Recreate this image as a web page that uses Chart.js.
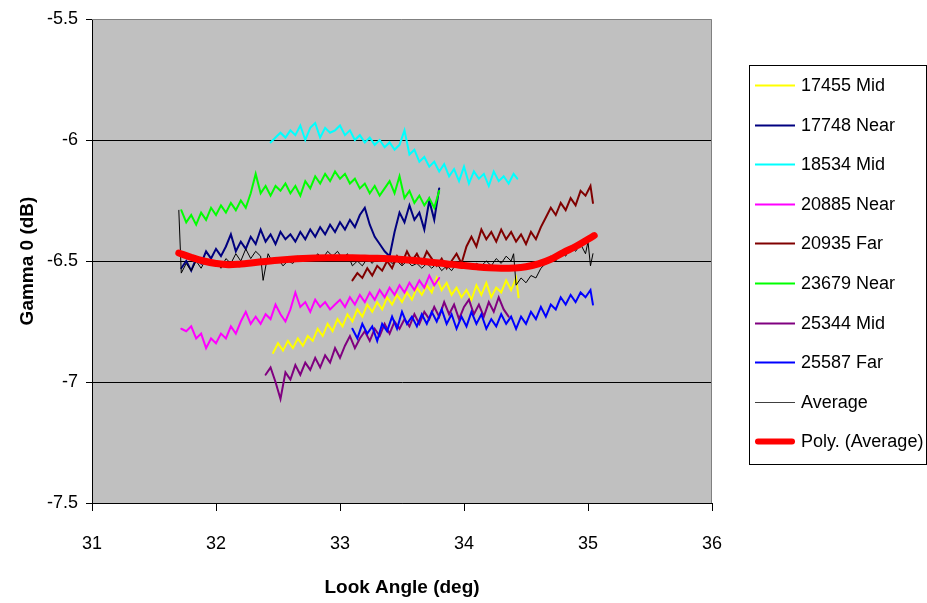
<!DOCTYPE html>
<html>
<head>
<meta charset="utf-8">
<script src="https://cdn.jsdelivr.net/npm/chart.js@4.4.1/dist/chart.umd.min.js"></script>
<style>
  body { margin: 0; background: #fff; }
</style>
</head>
<body>
<canvas id="chart" width="927" height="603"></canvas>
<script>
// [look angle, gamma0] pairs
const s17455Mid = [[32.46,-6.88],[32.50,-6.84],[32.54,-6.87],[32.58,-6.83],[32.62,-6.86],[32.66,-6.82],[32.70,-6.85],[32.74,-6.81],[32.78,-6.83],[32.82,-6.78],[32.86,-6.81],[32.90,-6.76],[32.94,-6.79],[32.98,-6.74],[33.02,-6.77],[33.06,-6.72],[33.10,-6.75],[33.14,-6.70],[33.18,-6.73],[33.22,-6.68],[33.26,-6.71],[33.30,-6.67],[33.34,-6.70],[33.38,-6.65],[33.42,-6.68],[33.46,-6.64],[33.50,-6.67],[33.54,-6.63],[33.58,-6.66],[33.62,-6.61],[33.66,-6.64],[33.70,-6.60],[33.74,-6.63],[33.78,-6.57],[33.82,-6.62],[33.86,-6.59],[33.90,-6.64],[33.94,-6.61],[33.98,-6.65],[34.02,-6.62],[34.06,-6.66],[34.10,-6.60],[34.14,-6.64],[34.18,-6.59],[34.22,-6.65],[34.26,-6.61],[34.30,-6.63],[34.34,-6.58],[34.38,-6.62],[34.42,-6.57],[34.44,-6.65]];
const s17748Near = [[31.72,-6.53],[31.76,-6.50],[31.80,-6.54],[31.84,-6.49],[31.88,-6.51],[31.92,-6.46],[31.96,-6.49],[32.00,-6.45],[32.04,-6.48],[32.08,-6.44],[32.12,-6.39],[32.16,-6.46],[32.20,-6.42],[32.24,-6.45],[32.28,-6.40],[32.32,-6.43],[32.36,-6.37],[32.40,-6.42],[32.44,-6.39],[32.48,-6.43],[32.52,-6.38],[32.56,-6.41],[32.60,-6.39],[32.64,-6.42],[32.68,-6.38],[32.72,-6.41],[32.76,-6.37],[32.80,-6.40],[32.84,-6.36],[32.88,-6.39],[32.92,-6.35],[32.96,-6.38],[33.00,-6.34],[33.04,-6.37],[33.08,-6.33],[33.12,-6.36],[33.16,-6.31],[33.20,-6.28],[33.24,-6.35],[33.28,-6.40],[33.32,-6.43],[33.36,-6.46],[33.40,-6.48],[33.44,-6.38],[33.48,-6.30],[33.52,-6.34],[33.56,-6.27],[33.60,-6.33],[33.64,-6.30],[33.68,-6.37],[33.72,-6.25],[33.76,-6.33],[33.80,-6.20]];
const s18534Mid = [[32.44,-6.01],[32.48,-5.99],[32.52,-5.97],[32.56,-5.99],[32.60,-5.96],[32.64,-5.98],[32.68,-5.94],[32.72,-6.00],[32.76,-5.95],[32.80,-5.93],[32.84,-5.99],[32.88,-5.95],[32.92,-5.97],[32.96,-5.96],[33.00,-5.94],[33.04,-5.98],[33.08,-5.96],[33.12,-6.00],[33.16,-5.98],[33.20,-6.01],[33.24,-5.99],[33.28,-6.02],[33.32,-6.00],[33.36,-6.03],[33.40,-6.01],[33.44,-6.04],[33.48,-6.02],[33.52,-5.96],[33.56,-6.06],[33.60,-6.04],[33.64,-6.09],[33.68,-6.07],[33.72,-6.11],[33.76,-6.09],[33.80,-6.13],[33.84,-6.10],[33.88,-6.15],[33.92,-6.12],[33.96,-6.17],[34.00,-6.11],[34.04,-6.18],[34.08,-6.13],[34.12,-6.16],[34.16,-6.14],[34.20,-6.19],[34.24,-6.13],[34.28,-6.17],[34.32,-6.15],[34.36,-6.18],[34.40,-6.14],[34.43,-6.16]];
const s20885Near = [[31.72,-6.78],[31.76,-6.79],[31.80,-6.77],[31.84,-6.82],[31.88,-6.80],[31.92,-6.86],[31.96,-6.82],[32.00,-6.84],[32.04,-6.80],[32.08,-6.82],[32.12,-6.77],[32.16,-6.80],[32.20,-6.75],[32.24,-6.71],[32.28,-6.76],[32.32,-6.73],[32.36,-6.76],[32.40,-6.72],[32.44,-6.74],[32.48,-6.68],[32.52,-6.72],[32.56,-6.75],[32.60,-6.70],[32.64,-6.63],[32.68,-6.69],[32.72,-6.67],[32.76,-6.71],[32.80,-6.66],[32.84,-6.69],[32.88,-6.67],[32.92,-6.70],[32.96,-6.68],[33.00,-6.66],[33.04,-6.69],[33.08,-6.65],[33.12,-6.68],[33.16,-6.64],[33.20,-6.67],[33.24,-6.63],[33.28,-6.66],[33.32,-6.62],[33.36,-6.65],[33.40,-6.61],[33.44,-6.64],[33.48,-6.60],[33.52,-6.63],[33.56,-6.59],[33.60,-6.62],[33.64,-6.58],[33.68,-6.61],[33.72,-6.56],[33.76,-6.60],[33.80,-6.57]];
const s20935Far = [[33.10,-6.58],[33.14,-6.55],[33.18,-6.57],[33.22,-6.53],[33.26,-6.56],[33.30,-6.52],[33.34,-6.54],[33.38,-6.50],[33.42,-6.53],[33.46,-6.48],[33.50,-6.51],[33.54,-6.46],[33.58,-6.50],[33.62,-6.47],[33.66,-6.51],[33.70,-6.46],[33.74,-6.49],[33.78,-6.52],[33.82,-6.49],[33.86,-6.53],[33.90,-6.50],[33.94,-6.47],[33.98,-6.51],[34.02,-6.44],[34.06,-6.40],[34.10,-6.44],[34.14,-6.37],[34.18,-6.41],[34.22,-6.38],[34.26,-6.42],[34.30,-6.37],[34.34,-6.41],[34.38,-6.38],[34.42,-6.42],[34.46,-6.39],[34.50,-6.43],[34.54,-6.38],[34.58,-6.41],[34.62,-6.36],[34.66,-6.32],[34.70,-6.28],[34.74,-6.31],[34.78,-6.26],[34.82,-6.29],[34.86,-6.24],[34.90,-6.27],[34.94,-6.21],[34.98,-6.23],[35.02,-6.19],[35.04,-6.26]];
const s23679Near = [[31.72,-6.29],[31.76,-6.34],[31.80,-6.31],[31.84,-6.35],[31.88,-6.30],[31.92,-6.33],[31.96,-6.28],[32.00,-6.31],[32.04,-6.27],[32.08,-6.30],[32.12,-6.26],[32.16,-6.29],[32.20,-6.25],[32.24,-6.28],[32.28,-6.22],[32.32,-6.14],[32.36,-6.22],[32.40,-6.19],[32.44,-6.23],[32.48,-6.19],[32.52,-6.21],[32.56,-6.18],[32.60,-6.22],[32.64,-6.19],[32.68,-6.23],[32.72,-6.17],[32.76,-6.20],[32.80,-6.15],[32.84,-6.18],[32.88,-6.14],[32.92,-6.17],[32.96,-6.13],[33.00,-6.16],[33.04,-6.14],[33.08,-6.18],[33.12,-6.16],[33.16,-6.20],[33.20,-6.18],[33.24,-6.22],[33.28,-6.19],[33.32,-6.23],[33.36,-6.20],[33.40,-6.17],[33.44,-6.22],[33.48,-6.15],[33.52,-6.24],[33.56,-6.21],[33.60,-6.26],[33.64,-6.23],[33.68,-6.27],[33.72,-6.24],[33.76,-6.28],[33.80,-6.21]];
const s25344Mid = [[32.40,-6.97],[32.44,-6.94],[32.48,-7.00],[32.52,-7.07],[32.56,-6.96],[32.60,-6.99],[32.64,-6.93],[32.68,-6.97],[32.72,-6.92],[32.76,-6.95],[32.80,-6.90],[32.84,-6.94],[32.88,-6.89],[32.92,-6.92],[32.96,-6.86],[33.00,-6.90],[33.04,-6.85],[33.08,-6.81],[33.12,-6.86],[33.16,-6.82],[33.20,-6.79],[33.24,-6.83],[33.28,-6.78],[33.32,-6.81],[33.36,-6.76],[33.40,-6.80],[33.44,-6.75],[33.48,-6.78],[33.52,-6.74],[33.56,-6.77],[33.60,-6.72],[33.64,-6.76],[33.68,-6.71],[33.72,-6.74],[33.76,-6.69],[33.80,-6.73],[33.84,-6.67],[33.88,-6.72],[33.92,-6.68],[33.96,-6.74],[34.00,-6.69],[34.04,-6.66],[34.08,-6.72],[34.12,-6.68],[34.16,-6.73],[34.20,-6.67],[34.24,-6.71],[34.28,-6.65],[34.32,-6.70],[34.36,-6.73]];
const s25587Far = [[33.10,-6.78],[33.14,-6.82],[33.18,-6.76],[33.22,-6.80],[33.26,-6.77],[33.30,-6.83],[33.34,-6.76],[33.38,-6.79],[33.42,-6.73],[33.46,-6.78],[33.50,-6.71],[33.54,-6.76],[33.58,-6.73],[33.62,-6.77],[33.66,-6.72],[33.70,-6.76],[33.74,-6.71],[33.78,-6.75],[33.82,-6.70],[33.86,-6.76],[33.90,-6.72],[33.94,-6.78],[33.98,-6.73],[34.02,-6.77],[34.06,-6.71],[34.10,-6.76],[34.14,-6.72],[34.18,-6.78],[34.22,-6.74],[34.26,-6.77],[34.30,-6.72],[34.34,-6.76],[34.38,-6.73],[34.42,-6.78],[34.46,-6.73],[34.50,-6.76],[34.54,-6.71],[34.58,-6.74],[34.62,-6.69],[34.66,-6.73],[34.70,-6.68],[34.74,-6.70],[34.78,-6.65],[34.82,-6.68],[34.86,-6.64],[34.90,-6.67],[34.94,-6.63],[34.98,-6.65],[35.02,-6.62],[35.04,-6.68]];
const average = [[31.70,-6.29],[31.72,-6.55],[31.76,-6.51],[31.80,-6.54],[31.84,-6.50],[31.88,-6.53],[31.92,-6.49],[31.96,-6.52],[32.00,-6.50],[32.04,-6.53],[32.08,-6.49],[32.12,-6.51],[32.16,-6.47],[32.20,-6.50],[32.24,-6.45],[32.28,-6.49],[32.32,-6.46],[32.36,-6.48],[32.38,-6.58],[32.42,-6.47],[32.46,-6.51],[32.50,-6.49],[32.54,-6.52],[32.58,-6.50],[32.62,-6.51],[32.66,-6.48],[32.70,-6.50],[32.74,-6.48],[32.78,-6.50],[32.82,-6.47],[32.86,-6.49],[32.90,-6.46],[32.94,-6.48],[32.98,-6.46],[33.02,-6.49],[33.06,-6.47],[33.10,-6.52],[33.14,-6.50],[33.18,-6.52],[33.22,-6.49],[33.26,-6.51],[33.30,-6.48],[33.34,-6.50],[33.38,-6.49],[33.42,-6.51],[33.46,-6.50],[33.50,-6.52],[33.54,-6.50],[33.58,-6.52],[33.62,-6.51],[33.66,-6.53],[33.70,-6.51],[33.74,-6.53],[33.78,-6.51],[33.82,-6.54],[33.86,-6.52],[33.90,-6.54],[33.94,-6.51],[33.98,-6.53],[34.02,-6.51],[34.06,-6.53],[34.10,-6.51],[34.14,-6.52],[34.18,-6.50],[34.22,-6.52],[34.26,-6.49],[34.30,-6.51],[34.34,-6.48],[34.38,-6.50],[34.40,-6.47],[34.42,-6.60],[34.46,-6.57],[34.50,-6.59],[34.54,-6.56],[34.58,-6.57],[34.62,-6.53],[34.66,-6.51],[34.70,-6.48],[34.74,-6.50],[34.78,-6.46],[34.82,-6.48],[34.86,-6.44],[34.90,-6.46],[34.94,-6.43],[34.98,-6.47],[35.00,-6.42],[35.02,-6.52],[35.04,-6.47]];
const polyAverage = [[31.70,-6.467],[31.80,-6.485],[31.90,-6.500],[32.00,-6.510],[32.10,-6.515],[32.20,-6.512],[32.30,-6.507],[32.40,-6.502],[32.50,-6.497],[32.60,-6.493],[32.70,-6.490],[32.80,-6.488],[32.90,-6.487],[33.00,-6.487],[33.10,-6.487],[33.20,-6.488],[33.30,-6.489],[33.40,-6.491],[33.50,-6.494],[33.60,-6.498],[33.70,-6.503],[33.80,-6.508],[33.90,-6.514],[34.00,-6.519],[34.10,-6.524],[34.20,-6.528],[34.30,-6.530],[34.40,-6.529],[34.50,-6.524],[34.60,-6.512],[34.70,-6.493],[34.80,-6.465],[34.90,-6.440],[35.00,-6.410],[35.05,-6.395]];

const seriesNames = ["17455 Mid", "17748 Near", "18534 Mid", "20885 Near", "20935 Far", "23679 Near", "25344 Mid", "25587 Far", "Average", "Poly. (Average)"];
const seriesData = [s17455Mid, s17748Near, s18534Mid, s20885Near, s20935Far, s23679Near, s25344Mid, s25587Far, average, polyAverage];
const seriesColors = ["#FFFF00", "#000080", "#00FFFF", "#FF00FF", "#800000", "#00FF00", "#800080", "#0000FF", "#000000", "#FF0000"];
const xTicks = [31, 32, 33, 34, 35, 36];
const yTicks = [-7.5, -7, -6.5, -6, -5.5];

const FONT = "'Liberation Sans', Arial, sans-serif";

const plotBox = {
  id: "plotBox",
  beforeDraw(chart) {
    const { ctx, chartArea: a } = chart;
    ctx.save();
    ctx.fillStyle = "#fff";
    ctx.fillRect(0, 0, chart.width, chart.height);
    ctx.fillStyle = "#C0C0C0";
    ctx.fillRect(a.left, a.top, a.right - a.left, a.bottom - a.top);
    ctx.restore();
  },
  beforeDatasetsDraw(chart) {
    const { ctx, chartArea: a } = chart;
    ctx.save();
    ctx.strokeStyle = "#808080";
    ctx.lineWidth = 1;
    ctx.beginPath();
    ctx.moveTo(a.left, a.top + 0.5);
    ctx.lineTo(a.right - 0.5, a.top + 0.5);
    ctx.lineTo(a.right - 0.5, a.bottom);
    ctx.stroke();
    ctx.restore();
  },
  afterDraw(chart) {
    // legend box on the right
    const ctx = chart.ctx;
    ctx.save();
    ctx.fillStyle = "#fff";
    ctx.fillRect(749, 65, 177, 399);
    ctx.strokeStyle = "#000";
    ctx.lineWidth = 1;
    ctx.strokeRect(749.5, 65.5, 177, 399);
    ctx.font = "18px " + FONT;
    ctx.textBaseline = "middle";
    chart.data.datasets.forEach((ds, i) => {
      const y = Math.round(85 + i * 39.6) + 0.5;
      ctx.strokeStyle = i === 8 ? "#404040" : ds.borderColor;
      ctx.lineWidth = i === 8 ? 1 : (i === 9 ? 6 : 2);
      ctx.lineCap = i === 9 ? "round" : "butt";
      ctx.beginPath();
      ctx.moveTo(i === 9 ? 758 : 755, y);
      ctx.lineTo(i === 9 ? 792 : 795, y);
      ctx.stroke();
      ctx.fillStyle = "#000";
      ctx.fillText(ds.label, 801, y + 1);
    });
    ctx.restore();
  }
};

const datasets = seriesData.map((pts, i) => ({
  label: seriesNames[i],
  data: pts.map(p => ({ x: p[0], y: p[1] })),
  borderColor: seriesColors[i],
  borderWidth: i === 8 ? 1 : (i === 9 ? 7 : 2),
  tension: i === 9 ? 0.4 : 0,
  borderCapStyle: "round",
  pointRadius: 0,
  fill: false,
  order: seriesData.length - i
}));

new Chart(document.getElementById("chart"), {
  type: "line",
  data: { datasets: datasets },
  plugins: [plotBox],
  options: {
    responsive: false,
    animation: false,
    layout: { padding: { top: 19, right: 215, left: 0, bottom: 0 } },
    plugins: { legend: { display: false }, tooltip: { enabled: false } },
    scales: {
      x: {
        type: "linear",
        min: 31,
        max: 36,
        afterFit: s => { s.height = 100; },
        afterBuildTicks: s => { s.ticks = xTicks.map(v => ({ value: v })); },
        grid: { drawOnChartArea: false, tickLength: 8, tickColor: "#000" },
        border: { color: "#000", width: 1 },
        ticks: { color: "#000", padding: 22, maxRotation: 0, font: { family: FONT, size: 18 }, callback: v => String(v) },
        title: { display: true, text: "Look Angle (deg)", color: "#000", padding: { top: 0, bottom: 4 }, font: { family: FONT, size: 19, weight: "bold" } }
      },
      y: {
        min: -7.5,
        max: -5.5,
        afterFit: s => { s.width = 92; },
        afterBuildTicks: s => { s.ticks = yTicks.map(v => ({ value: v })); },
        grid: {
          color: c => (c.tick && c.tick.value === -5.5) ? "rgba(0,0,0,0)" : "#000",
          tickLength: 6,
          tickColor: "#000"
        },
        border: { color: "#000", width: 1 },
        ticks: { color: "#000", padding: 8, font: { family: FONT, size: 18 }, callback: v => String(v) },
        title: { display: true, text: "Gamma 0 (dB)", color: "#000", padding: { top: 16, bottom: 0 }, font: { family: FONT, size: 19, weight: "bold" } }
      }
    }
  }
});
</script>
</body>
</html>
